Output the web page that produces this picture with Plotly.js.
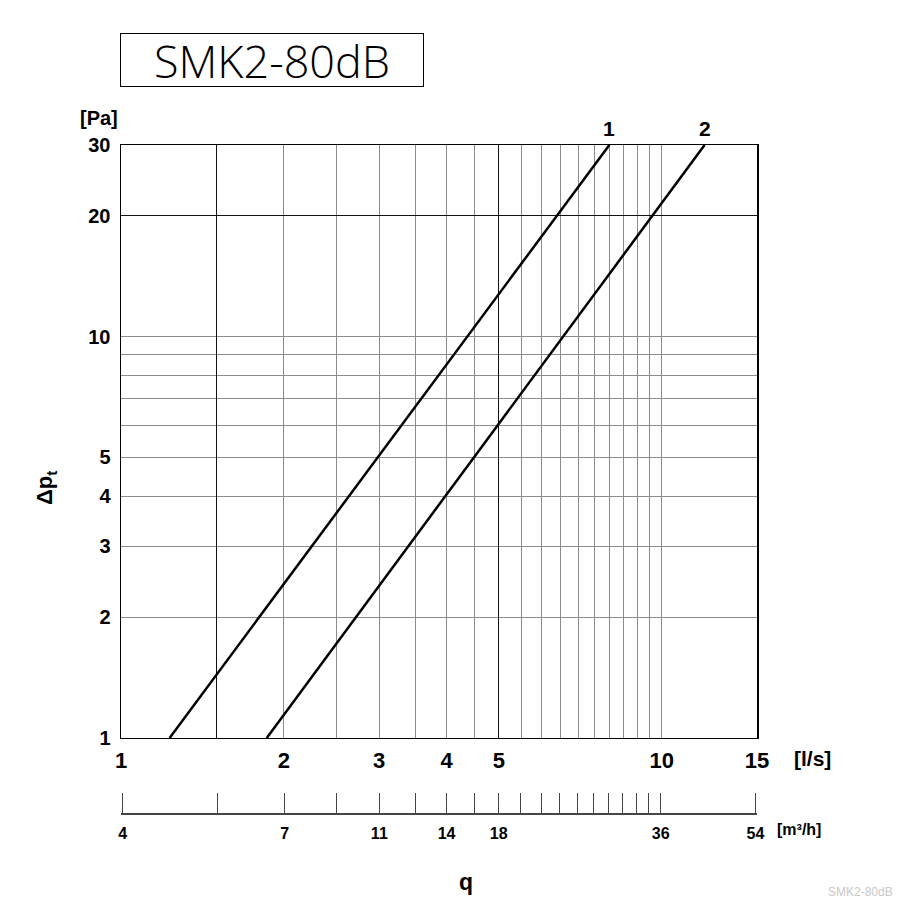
<!DOCTYPE html>
<html>
<head>
<meta charset="utf-8">
<script src="https://cdn.plot.ly/plotly-3.0.1.min.js"></script>
<style>
  html, body { margin: 0; padding: 0; background: #fff; }
  #chart { width: 908px; height: 909px; }
</style>
</head>
<body>
<div id="chart"></div>
<script>
// Air flow q [l/s] grid positions and their labels on both scales
const flowTicks = [1, 1.5, 2, 2.5, 3, 3.5, 4, 4.5, 5, 5.5, 6, 6.5, 7, 7.5, 8, 8.5, 9, 9.5, 10, 15];
const flowLabelsLs = ['1', '', '2', '', '3', '', '4', '', '5', '', '', '', '', '', '', '', '', '', '10', '15'];
const flowLabelsM3h = ['4', '', '7', '', '11', '', '14', '', '18', '', '', '', '', '', '', '', '', '', '36', '54'];

// Pressure drop Δpt [Pa] grid positions and labels
const dpTicks = [1, 2, 3, 4, 5, 6, 7, 8, 9, 10, 20, 30];
const dpLabels = ['1', '2', '3', '4', '5', '', '', '', '', '10', '20', '30'];

// Emphasised grid lines
const heavyFlowLines = [1.5, 5];
const heavyDpLines = [20];

// Damper characteristics (straight lines on log-log scale)
const curve1Q = [1.23, 8.0];
const curve1Dp = [1, 30];
const curve2Q = [1.86, 12.0];
const curve2Dp = [1, 30];
const curveNames = ['1', '2'];

const qRange = [Math.log10(1), Math.log10(15)];
const dpRange = [Math.log10(1), Math.log10(30)];
// the m³/h scale is widened a little so its end ticks are kept
const eps = 0.003;
const qRangeScale = [qRange[0] - eps, qRange[1] + eps];

const FONT = 'Liberation Sans, Arial, Helvetica, sans-serif';
const GRID = '#8c8c8c';

const lineStyle = { color: '#000', width: 2.5 };

const traces = [
  { x: curve1Q, y: curve1Dp, mode: 'lines', line: lineStyle, xaxis: 'x', yaxis: 'y', hoverinfo: 'skip' },
  { x: curve2Q, y: curve2Dp, mode: 'lines', line: lineStyle, xaxis: 'x', yaxis: 'y', hoverinfo: 'skip' },
  // carriers for the m³/h scale and the heavy grid overlay
  { x: [], y: [], mode: 'lines', xaxis: 'x2', yaxis: 'y', hoverinfo: 'skip' },
  { x: [], y: [], mode: 'lines', xaxis: 'x3', yaxis: 'y3', hoverinfo: 'skip' }
];

const boldTick = (size) => ({ family: FONT, size: size, color: '#000', weight: 'bold' });

const layout = {
  width: 908,
  height: 909,
  margin: { l: 121, r: 151, t: 145, b: 96, pad: 0 },
  paper_bgcolor: '#fff',
  plot_bgcolor: '#fff',
  showlegend: false,
  xaxis: {
    type: 'log', range: qRange, domain: [0, 1], anchor: 'y',
    tickmode: 'array', tickvals: flowTicks, ticktext: flowLabelsLs,
    tickfont: boldTick(22), ticks: '', ticklabelstandoff: 2,
    showgrid: true, gridcolor: GRID, gridwidth: 1,
    showline: true, linecolor: '#000', linewidth: 1.5, mirror: true,
    zeroline: false
  },
  yaxis: {
    type: 'log', range: dpRange, domain: [0.1123, 1], anchor: 'x',
    tickmode: 'array', tickvals: dpTicks, ticktext: dpLabels,
    tickfont: boldTick(20), ticks: '', ticklabelstandoff: 5,
    showgrid: true, gridcolor: GRID, gridwidth: 1,
    showline: true, linecolor: '#000', linewidth: 1.5, mirror: true,
    zeroline: false
  },
  // secondary flow scale in m³/h
  xaxis2: {
    type: 'log', range: qRangeScale, overlaying: 'x', anchor: 'free', position: 0, side: 'bottom',
    tickmode: 'array', tickvals: flowTicks, ticktext: flowLabelsM3h,
    tickfont: boldTick(16), ticks: 'inside', ticklen: 20, tickwidth: 1, tickcolor: '#444',
    ticklabelstandoff: 5,
    showgrid: false, showline: true, linecolor: '#444', linewidth: 1.5, zeroline: false
  },
  // heavy grid lines
  xaxis3: {
    type: 'log', range: qRange, overlaying: 'x', anchor: 'y3',
    tickmode: 'array', tickvals: heavyFlowLines, showticklabels: false, ticks: '',
    showgrid: true, gridcolor: '#111', gridwidth: 1, showline: false, zeroline: false
  },
  yaxis3: {
    type: 'log', range: dpRange, overlaying: 'y', anchor: 'x3',
    tickmode: 'array', tickvals: heavyDpLines, showticklabels: false, ticks: '',
    showgrid: true, gridcolor: '#111', gridwidth: 1, showline: false, zeroline: false
  },
  annotations: [
    {
      text: 'SMK2-80dB', xref: 'paper', yref: 'paper', x: 0.2374, y: 1.1272,
      xanchor: 'center', yanchor: 'middle', showarrow: false,
      width: 302, height: 52, borderwidth: 1, bordercolor: '#000', borderpad: 0,
      bgcolor: '#fff',
      font: { family: 'Open Sans, Lato, sans-serif', size: 45, color: '#000', weight: 300 }
    },
    { text: '[Pa]', xref: 'paper', yref: 'paper', x: -0.0346, y: 1.041,
      xanchor: 'center', yanchor: 'middle', showarrow: false, font: boldTick(20) },
    { text: 'Δp<sub>t</sub>', xref: 'paper', yref: 'paper', x: -0.118, y: 0.4865,
      xanchor: 'center', yanchor: 'middle', showarrow: false, textangle: -90, font: boldTick(22) },
    { text: '[l/s]', xref: 'paper', yref: 'paper', x: 1.0865, y: 0.0823,
      xanchor: 'center', yanchor: 'middle', showarrow: false, font: boldTick(21) },
    { text: '[m³/h]', xref: 'paper', yref: 'paper', x: 1.0655, y: -0.0254,
      xanchor: 'center', yanchor: 'middle', showarrow: false, font: boldTick(16) },
    { text: 'q', xref: 'paper', yref: 'paper', x: 0.5425, y: -0.103,
      xanchor: 'center', yanchor: 'middle', showarrow: false, font: boldTick(23) },
    { text: curveNames[0], xref: 'x', yref: 'paper', x: Math.log10(curve1Q[1]), y: 1.025,
      xanchor: 'center', yanchor: 'middle', showarrow: false, font: boldTick(21) },
    { text: curveNames[1], xref: 'x', yref: 'paper', x: Math.log10(curve2Q[1]), y: 1.025,
      xanchor: 'center', yanchor: 'middle', showarrow: false, font: boldTick(21) },
    { text: 'SMK2-80dB', xref: 'paper', yref: 'paper', x: 1.1635, y: -0.118,
      xanchor: 'center', yanchor: 'middle', showarrow: false,
      font: { family: FONT, size: 12, color: '#c8c8c8' } }
  ]
};

Plotly.newPlot('chart', traces, layout, { staticPlot: true, displayModeBar: false });
</script>
</body>
</html>
